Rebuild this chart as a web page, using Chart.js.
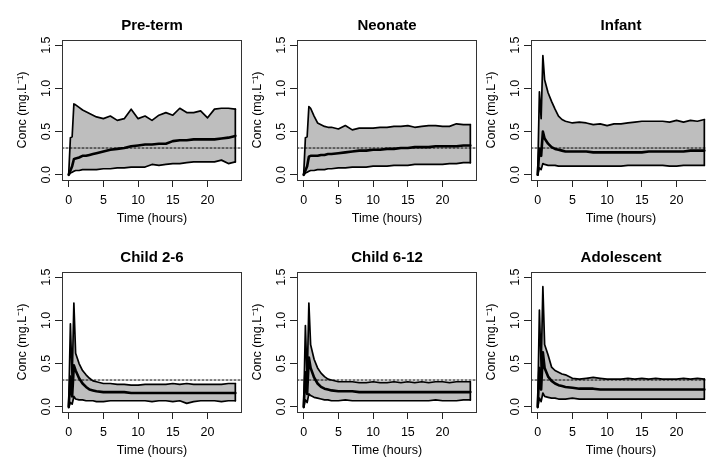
<!DOCTYPE html>
<html>
<head>
<meta charset="utf-8">
<title>Simulated concentration by age group</title>
<script src="https://cdn.jsdelivr.net/npm/chart.js@4.4.1/dist/chart.umd.min.js"></script>
<style>
  html, body { margin: 0; padding: 0; background: #fff; }
  #figure { position: relative; width: 706px; height: 459px; overflow: hidden; background: #fff; }
  #figure canvas { position: absolute; }
</style>
</head>
<body>
<div id="figure"></div>
<script>
// sampling times (hours)
const time = [0, 0.25, 0.5, 0.75, 1, 1.5, 2, 2.5, 3, 3.5, 4, 5, 6, 7, 8, 9, 10, 11, 12, 13, 14, 15, 16, 17, 18, 19, 20, 21, 22, 23, 24];

const groups = ["Pre-term", "Neonate", "Infant", "Child 2-6", "Child 6-12", "Adolescent"];

const preTermUpper = [0, 0.43, 0.44, 0.82, 0.81, 0.78, 0.75, 0.73, 0.71, 0.69, 0.67, 0.65, 0.68, 0.63, 0.65, 0.76, 0.65, 0.68, 0.63, 0.69, 0.72, 0.69, 0.77, 0.72, 0.72, 0.74, 0.66, 0.76, 0.77, 0.77, 0.76];
const preTermMedian = [0, 0.05, 0.1, 0.18, 0.19, 0.2, 0.22, 0.22, 0.23, 0.24, 0.25, 0.27, 0.29, 0.3, 0.31, 0.33, 0.34, 0.35, 0.35, 0.36, 0.36, 0.39, 0.4, 0.4, 0.41, 0.41, 0.41, 0.41, 0.42, 0.43, 0.45];
const preTermLower = [0, 0.02, 0.03, 0.04, 0.05, 0.05, 0.06, 0.06, 0.06, 0.06, 0.06, 0.07, 0.07, 0.08, 0.08, 0.09, 0.09, 0.09, 0.12, 0.11, 0.12, 0.13, 0.13, 0.14, 0.15, 0.15, 0.15, 0.15, 0.17, 0.13, 0.15];

const neonateUpper = [0, 0.43, 0.44, 0.79, 0.77, 0.68, 0.6, 0.58, 0.56, 0.55, 0.55, 0.53, 0.57, 0.52, 0.54, 0.54, 0.54, 0.55, 0.55, 0.56, 0.56, 0.57, 0.55, 0.56, 0.57, 0.57, 0.56, 0.56, 0.59, 0.58, 0.58];
const neonateMedian = [0, 0.05, 0.1, 0.21, 0.22, 0.22, 0.22, 0.23, 0.23, 0.24, 0.24, 0.25, 0.26, 0.27, 0.28, 0.28, 0.29, 0.29, 0.3, 0.3, 0.31, 0.31, 0.32, 0.32, 0.32, 0.33, 0.33, 0.33, 0.33, 0.34, 0.34];
const neonateLower = [0, 0.02, 0.03, 0.04, 0.05, 0.05, 0.06, 0.06, 0.06, 0.07, 0.07, 0.08, 0.08, 0.09, 0.09, 0.09, 0.1, 0.1, 0.1, 0.11, 0.11, 0.11, 0.12, 0.12, 0.12, 0.12, 0.12, 0.13, 0.13, 0.14, 0.14];

const infantUpper = [0, 0.96, 0.65, 1.38, 1.1, 0.95, 0.85, 0.76, 0.68, 0.64, 0.62, 0.6, 0.61, 0.6, 0.58, 0.59, 0.57, 0.59, 0.59, 0.6, 0.61, 0.62, 0.62, 0.62, 0.62, 0.61, 0.63, 0.61, 0.63, 0.62, 0.64];
const infantMedian = [0, 0.3, 0.22, 0.5, 0.42, 0.36, 0.32, 0.3, 0.29, 0.28, 0.27, 0.27, 0.27, 0.27, 0.26, 0.26, 0.26, 0.26, 0.26, 0.26, 0.26, 0.26, 0.27, 0.27, 0.27, 0.27, 0.27, 0.27, 0.28, 0.28, 0.28];
const infantLower = [0, 0.08, 0.06, 0.13, 0.12, 0.11, 0.11, 0.11, 0.1, 0.1, 0.1, 0.1, 0.1, 0.1, 0.1, 0.1, 0.1, 0.1, 0.1, 0.11, 0.11, 0.11, 0.11, 0.11, 0.11, 0.1, 0.1, 0.11, 0.11, 0.11, 0.11];

const child26Upper = [0, 0.96, 0.3, 1.2, 0.62, 0.5, 0.42, 0.37, 0.33, 0.3, 0.29, 0.27, 0.27, 0.26, 0.26, 0.25, 0.25, 0.26, 0.26, 0.26, 0.26, 0.27, 0.26, 0.27, 0.26, 0.26, 0.26, 0.26, 0.26, 0.27, 0.27];
const child26Median = [0, 0.35, 0.12, 0.48, 0.42, 0.33, 0.27, 0.23, 0.2, 0.19, 0.18, 0.17, 0.17, 0.17, 0.17, 0.16, 0.16, 0.16, 0.16, 0.16, 0.16, 0.16, 0.16, 0.16, 0.16, 0.16, 0.16, 0.16, 0.16, 0.16, 0.16];
const child26Lower = [-0.01, 0.05, 0.03, 0.12, 0.09, 0.08, 0.08, 0.07, 0.07, 0.07, 0.06, 0.06, 0.07, 0.07, 0.07, 0.07, 0.07, 0.07, 0.06, 0.07, 0.07, 0.06, 0.07, 0.04, 0.06, 0.07, 0.07, 0.07, 0.06, 0.07, 0.07];

const child612Upper = [0, 0.94, 0.3, 1.2, 0.72, 0.55, 0.45, 0.39, 0.35, 0.32, 0.31, 0.29, 0.29, 0.29, 0.28, 0.28, 0.29, 0.28, 0.28, 0.29, 0.28, 0.29, 0.28, 0.29, 0.28, 0.29, 0.29, 0.28, 0.29, 0.29, 0.29];
const child612Median = [0, 0.4, 0.15, 0.57, 0.45, 0.34, 0.27, 0.23, 0.21, 0.2, 0.19, 0.18, 0.18, 0.18, 0.17, 0.17, 0.17, 0.17, 0.17, 0.17, 0.17, 0.17, 0.17, 0.17, 0.17, 0.17, 0.17, 0.17, 0.17, 0.17, 0.17];
const child612Lower = [-0.01, 0.08, 0.05, 0.15, 0.13, 0.11, 0.1, 0.09, 0.08, 0.08, 0.07, 0.07, 0.08, 0.07, 0.07, 0.07, 0.07, 0.07, 0.07, 0.07, 0.07, 0.07, 0.07, 0.07, 0.07, 0.08, 0.07, 0.07, 0.07, 0.08, 0.08];

const adolescentUpper = [0, 1.12, 0.45, 1.39, 0.72, 0.6, 0.46, 0.42, 0.4, 0.38, 0.37, 0.33, 0.32, 0.33, 0.34, 0.33, 0.32, 0.32, 0.32, 0.33, 0.32, 0.33, 0.32, 0.33, 0.32, 0.32, 0.32, 0.33, 0.32, 0.33, 0.32];
const adolescentMedian = [0, 0.45, 0.2, 0.63, 0.45, 0.35, 0.3, 0.27, 0.25, 0.24, 0.23, 0.22, 0.21, 0.21, 0.21, 0.2, 0.2, 0.2, 0.2, 0.2, 0.2, 0.2, 0.2, 0.2, 0.2, 0.2, 0.2, 0.2, 0.2, 0.2, 0.2];
const adolescentLower = [-0.01, 0.1, 0.06, 0.16, 0.12, 0.11, 0.1, 0.1, 0.09, 0.09, 0.09, 0.1, 0.09, 0.09, 0.09, 0.09, 0.09, 0.09, 0.09, 0.09, 0.09, 0.09, 0.09, 0.09, 0.09, 0.09, 0.09, 0.09, 0.09, 0.09, 0.09];

// dotted reference concentration
const targetConc = 0.31;

// axis limits (R style, range padded by 4%)
const xMin = -0.96, xMax = 24.96;
const yMin = -0.06, yMax = 1.56;

const panels = [
  { title: groups[0], upper: preTermUpper, median: preTermMedian, lower: preTermLower },
  { title: groups[1], upper: neonateUpper, median: neonateMedian, lower: neonateLower },
  { title: groups[2], upper: infantUpper, median: infantMedian, lower: infantLower },
  { title: groups[3], upper: child26Upper, median: child26Median, lower: child26Lower },
  { title: groups[4], upper: child612Upper, median: child612Median, lower: child612Lower },
  { title: groups[5], upper: adolescentUpper, median: adolescentMedian, lower: adolescentLower },
];

const colLeft = [6, 241, 475];
const rowTop = [0, 232];
const FONT = "'Liberation Sans', Arial, Helvetica, sans-serif";
Chart.defaults.font.family = FONT;
Chart.defaults.color = "#000";

// draws the frame round the plot region
const plotBox = {
  id: "plotBox",
  afterDraw(chart) {
    const { ctx, chartArea: a } = chart;
    ctx.save();
    ctx.strokeStyle = "#333";
    ctx.lineWidth = 1;
    ctx.strokeRect(a.left + 0.5, a.top + 0.5, a.right - a.left - 1, a.bottom - a.top);
    ctx.restore();
  },
};

const toPoints = (ys) => time.map((t, i) => ({ x: t, y: ys[i] }));

const figure = document.getElementById("figure");

panels.forEach(function (p, i) {
  const canvas = document.createElement("canvas");
  canvas.width = 240;
  canvas.height = 230;
  canvas.style.left = colLeft[i % 3] + "px";
  canvas.style.top = rowTop[Math.floor(i / 3)] + "px";
  figure.appendChild(canvas);

  const last = time.length - 1;
  const line = { borderColor: "#000", pointRadius: 0, fill: false };

  new Chart(canvas.getContext("2d"), {
    type: "line",
    data: {
      datasets: [
        { ...line, label: "Lower", data: toPoints(p.lower), borderWidth: 1.7 },
        { ...line, label: "Upper", data: toPoints(p.upper), borderWidth: 1.7, fill: 0, backgroundColor: "#bebebe" },
        { ...line, label: "Median", data: toPoints(p.median), borderWidth: 2.6 },
        {
          ...line,
          label: "Band end",
          data: [{ x: time[last], y: p.lower[last] }, { x: time[last], y: p.upper[last] }],
          borderWidth: 1.7,
        },
        {
          ...line,
          label: "Target",
          data: [{ x: xMin, y: targetConc }, { x: xMax, y: targetConc }],
          borderWidth: 1,
          borderDash: [2, 2],
        },
      ],
    },
    options: {
      responsive: false,
      animation: false,
      layout: { padding: { left: 0, right: 4, top: 0, bottom: 0 } },
      elements: { line: { tension: 0, borderJoinStyle: "round", borderCapStyle: "round" } },
      plugins: {
        legend: { display: false },
        tooltip: { enabled: false },
        filler: { drawTime: "beforeDatasetsDraw" },
        title: {
          display: true,
          text: p.title,
          fullSize: false,
          color: "#000",
          font: { size: 15, weight: "bold", lineHeight: 1.2 },
          padding: { top: 16.5, bottom: 5.5 },
        },
      },
      scales: {
        x: {
          type: "linear",
          min: xMin,
          max: xMax,
          ticks: { stepSize: 5, includeBounds: false, autoSkip: false, maxRotation: 0, padding: 6, font: { size: 12.5 } },
          grid: { drawOnChartArea: false, tickLength: 7, tickColor: "#222" },
          border: { display: false },
          title: { display: true, text: "Time (hours)", font: { size: 12.5, lineHeight: 1.2 }, padding: { top: 0, bottom: 4 } },
          afterFit: (s) => { s.height = 50; },
        },
        y: {
          type: "linear",
          min: yMin,
          max: yMax,
          ticks: {
            stepSize: 0.5,
            includeBounds: false,
            minRotation: 90,
            maxRotation: 90,
            crossAlign: "center",
            padding: 0,
            font: { size: 12.5 },
            callback: (v) => v.toFixed(1),
          },
          grid: { drawOnChartArea: false, tickLength: 7, tickColor: "#222" },
          border: { display: false },
          title: { display: true, text: "Conc (mg.L\u207B\u00B9)", font: { size: 12.5, lineHeight: 1.2 }, padding: { top: 9, bottom: 0 } },
          afterFit: (s) => { s.width = 56; },
        },
      },
    },
    plugins: [plotBox],
  });
});
</script>
</body>
</html>
